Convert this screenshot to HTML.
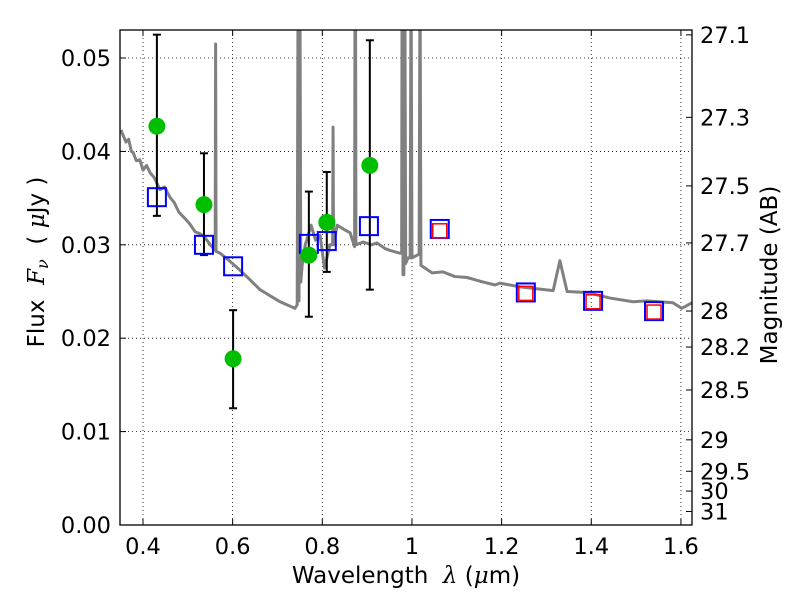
<!DOCTYPE html>
<html><head><meta charset="utf-8"><style>
html,body{margin:0;padding:0;background:#fff;}
svg text{font-family:"DejaVu Sans","Liberation Sans",sans-serif;white-space:pre;}
</style></head><body>
<svg id="chart" width="800" height="600" viewBox="0 0 800 600" xmlns="http://www.w3.org/2000/svg"></svg>
<script>
const specLam=[0.351,0.355,0.362,0.368,0.374,0.378,0.385,0.393,0.400,0.408,0.416,0.425,0.438,0.448,0.460,0.470,0.480,0.494,0.505,0.516,0.527,0.538,0.550,0.561,0.562,0.563,0.572,0.590,0.616,0.640,0.661,0.685,0.706,0.739,0.744,0.746,0.748,0.750,0.752,0.755,0.762,0.775,0.785,0.795,0.805,0.817,0.823,0.824,0.825,0.833,0.850,0.862,0.872,0.873,0.874,0.875,0.891,0.910,0.922,0.940,0.951,0.973,0.977,0.978,0.980,0.982,0.984,0.986,0.991,0.996,0.998,1.000,1.016,1.018,1.020,1.045,1.069,1.096,1.123,1.152,1.185,1.196,1.241,1.315,1.330,1.346,1.390,1.442,1.493,1.524,1.582,1.602,1.625];
const specFlux=[0.0423,0.0418,0.0410,0.0413,0.0400,0.0399,0.0390,0.0391,0.0380,0.0385,0.0377,0.0372,0.0359,0.0362,0.0351,0.0345,0.0335,0.0328,0.0322,0.0314,0.0312,0.0308,0.0300,0.0294,0.0515,0.0293,0.0291,0.0284,0.0273,0.0262,0.0252,0.0245,0.0239,0.0232,0.0236,0.060,0.024,0.060,0.026,0.0278,0.0300,0.0321,0.0305,0.0310,0.0275,0.0300,0.0300,0.0426,0.0300,0.0321,0.0316,0.0313,0.0298,0.060,0.060,0.0300,0.0303,0.0300,0.0302,0.0296,0.0294,0.0291,0.0291,0.060,0.0268,0.0268,0.060,0.0280,0.0286,0.0286,0.060,0.0286,0.0290,0.060,0.0278,0.0270,0.0271,0.0266,0.0265,0.0261,0.0257,0.0259,0.0255,0.0251,0.0283,0.0250,0.0249,0.0243,0.0239,0.0240,0.0238,0.0232,0.0238];
const obsLam=[0.431,0.536,0.601,0.770,0.810,0.906];
const obsFlux=[0.0427,0.0343,0.0178,0.0289,0.0324,0.0385];
const obsHi=[0.0525,0.0398,0.0230,0.0357,0.0378,0.0519];
const obsLo=[0.0331,0.0289,0.0125,0.0223,0.0271,0.0252];
const modLam=[0.431,0.536,0.601,0.770,0.810,0.904,1.062,1.254,1.404,1.540];
const modFlux=[0.0351,0.0300,0.0277,0.0301,0.0304,0.0320,0.0317,0.0249,0.0240,0.0229];
const redLam=[1.062,1.254,1.404,1.540];
const redFlux=[0.0315,0.0248,0.0239,0.0228];
const xTicks=[0.4,0.6,0.8,1,1.2,1.4,1.6];
const xTickLabels=["0.4","0.6","0.8","1","1.2","1.4","1.6"];
const yTicks=[0,0.01,0.02,0.03,0.04,0.05];
const yTickLabels=["0.00","0.01","0.02","0.03","0.04","0.05"];
const magTicks=[27.1,27.3,27.5,27.7,28,28.2,28.5,29,29.5,30,31];
const magLabels=["27.1","27.3","27.5","27.7","28","28.2","28.5","29","29.5","30","31"];

const L=120,R=692,T=30,B=525,XMIN=0.3487,XMAX=1.6247,YMAX=0.053;
const X=v=>L+(v-XMIN)/(XMAX-XMIN)*(R-L);
const Y=v=>B-v/YMAX*(B-T);
const NS="http://www.w3.org/2000/svg";
const svg=document.getElementById('chart');
function mk(tag,attrs,parent){const e=document.createElementNS(NS,tag);for(const k in attrs)e.setAttribute(k,attrs[k]);(parent||svg).appendChild(e);return e;}
const defs=mk('defs',{});const cp=mk('clipPath',{id:'clip'},defs);mk('rect',{x:L,y:T,width:R-L,height:B-T},cp);

xTicks.forEach((t,i)=>{
  const g=mk('line',{x1:X(t),x2:X(t),y1:T,y2:B,stroke:'#000','stroke-width':0.8,'stroke-dasharray':'1,3'});
  
  mk('line',{x1:X(t),x2:X(t),y1:B,y2:B-6,stroke:'#000'});mk('line',{x1:X(t),x2:X(t),y1:T,y2:T+6,stroke:'#000'});
  const tx=mk('text',{x:X(t),y:B+29,'font-size':22.5,'text-anchor':'middle'});tx.textContent=xTickLabels[i];
  
});
yTicks.forEach((t,i)=>{
  const g=mk('line',{x1:L,x2:R,y1:Y(t),y2:Y(t),stroke:'#000','stroke-width':0.8,'stroke-dasharray':'1,3'});
  
  mk('line',{x1:L,x2:L+6,y1:Y(t),y2:Y(t),stroke:'#000'});
  const tx=mk('text',{x:L-9,y:Y(t)+8,'font-size':22.5,'text-anchor':'end'});tx.textContent=yTickLabels[i];
  
});
magTicks.forEach((m,i)=>{
  const f=Math.pow(10,(23.9-m)/2.5);const y=Y(f);
  mk('line',{x1:R,x2:R-6,y1:y,y2:y,stroke:'#000'});
  const tx=mk('text',{x:R+8,y:y+8,'font-size':22.5,'text-anchor':'start'});tx.textContent=magLabels[i];
  
});

const g=mk('g',{'clip-path':'url(#clip)'});
const sp=mk('polyline',{points:specLam.map((l,i)=>X(l)+','+Y(specFlux[i])).join(' '),fill:'none',stroke:'#808080','stroke-width':3,'stroke-linejoin':'round'},g);


obsLam.forEach((l,i)=>{
  const x=X(l);
  const e=mk('line',{x1:x,x2:x,y1:Y(obsHi[i]),y2:Y(obsLo[i]),stroke:'#000','stroke-width':2},g);
  
  mk('line',{x1:x-4,x2:x+4,y1:Y(obsHi[i]),y2:Y(obsHi[i]),stroke:'#000','stroke-width':2},g);
  mk('line',{x1:x-4,x2:x+4,y1:Y(obsLo[i]),y2:Y(obsLo[i]),stroke:'#000','stroke-width':2},g);
});
modLam.forEach((l,i)=>{
  const r=mk('rect',{x:X(l)-9,y:Y(modFlux[i])-9,width:18,height:18,fill:'none',stroke:'#0000ff','stroke-width':2},g);
  
});
redLam.forEach((l,i)=>{
  const r=mk('rect',{x:X(l)-7,y:Y(redFlux[i])-7,width:14,height:14,fill:'none',stroke:'#ff0000','stroke-width':1.5},g);
  
});
obsLam.forEach((l,i)=>{
  const c=mk('circle',{cx:X(l),cy:Y(obsFlux[i]),r:8.5,fill:'#00bf00'},g);
  
});

const fr=mk('rect',{x:L,y:T,width:R-L,height:B-T,fill:'none',stroke:'#000','stroke-width':1.3});


const xl=mk('text',{x:406,y:583,'font-size':23,'text-anchor':'middle'});
xl.innerHTML='Wavelength  <tspan font-style="italic" font-family="DejaVu Serif">λ</tspan> (<tspan font-style="italic" font-family="DejaVu Serif">μ</tspan>m)';

const yl=mk('text',{x:0,y:0,'font-size':23,'text-anchor':'middle',transform:'translate(44,262) rotate(-90)'});
yl.innerHTML='Flux  <tspan font-style="italic" font-family="DejaVu Serif">F<tspan font-size="16" dy="4">ν</tspan></tspan><tspan dy="-4">  ( </tspan><tspan font-style="italic" font-family="DejaVu Serif">μ</tspan>Jy )';

const ml=mk('text',{x:0,y:0,'font-size':23,'text-anchor':'middle',transform:'translate(777,275) rotate(-90)'});
ml.textContent='Magnitude (AB)';

</script>
</body></html>
